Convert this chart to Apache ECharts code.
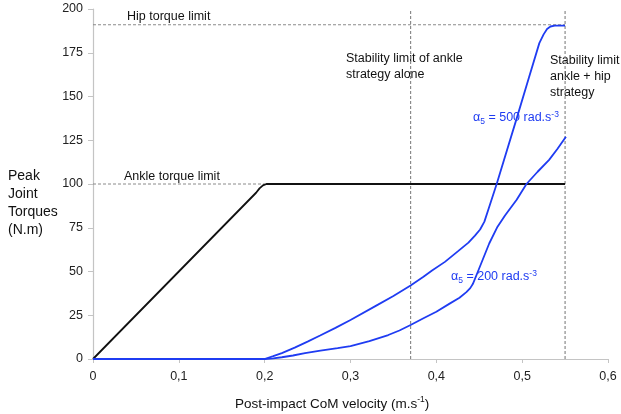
<!DOCTYPE html>
<html><head><meta charset="utf-8">
<script src="https://cdn.jsdelivr.net/npm/echarts@6/dist/echarts.min.js"></script>
<style>html,body{margin:0;padding:0;background:#fff}#c{width:621px;height:414px}</style>
</head><body><div id="c"></div>
<script>
// ---- data ----
const xTicks = [0, 0.1, 0.2, 0.3, 0.4, 0.5, 0.6];
const yTicks = [0, 25, 50, 75, 100, 125, 150, 175, 200];
const hipLimit = 191;
const ankleLimit = 100;
const ankleLimitEnd = 0.2;
const stabilityLimits = [0.37, 0.55];
const ankleStrategy = [[0,0],[0.1,50],[0.18,90],[0.19,95],[0.194,97.5],[0.198,99.2],[0.202,100],[0.55,100]];
const alpha500 = [[0,0],[0.2,0],[0.21,1.6],[0.22,3.4],[0.235,6.5],[0.25,9.9],[0.2646,13.4],[0.2825,17.8],[0.3,22.3],[0.33,30.5],[0.35,36],[0.37,42],[0.385,47],[0.395,50.6],[0.41,55.5],[0.425,61.5],[0.4374,66.5],[0.445,70.5],[0.451,74],[0.456,78.5],[0.461,86],[0.4703,100],[0.493,136.5],[0.508,161],[0.52,180.5],[0.525,185.5],[0.529,188.6],[0.533,190],[0.538,190.5],[0.55,190.5]];
const alpha200 = [[0,0],[0.2,0],[0.21,0.4],[0.22,1],[0.233,2],[0.247,3.3],[0.265,4.8],[0.285,6.2],[0.3,7.4],[0.322,10.2],[0.344,13.7],[0.357,16.3],[0.37,19.4],[0.385,23.3],[0.4,27],[0.415,31.5],[0.427,35],[0.435,38.2],[0.4395,40.5],[0.4425,42.8],[0.446,47],[0.4616,66],[0.4713,75.6],[0.48,82],[0.4936,91],[0.505,100],[0.518,107],[0.5314,113.8],[0.541,120],[0.551,127]];

const BLUE = '#1f3cf2';
const chart = echarts.init(document.getElementById('c'));
const FONT = 'Liberation Sans, Arial, sans-serif';
const fmt = v => v === 0 ? '0' : String(Math.round(v*10)/10).replace('.', ',');
const dashed = {color:'#8a8a8a', width:1, type:[3,2]};
const hline = (y, x1) => [[0, y], [x1, y]];
const vline = x => [[x, yTicks[0]], [x, yTicks[yTicks.length-1]]];

function t(text, x, y, opts) {
  return {type:'text', left:x, top:y, style:Object.assign({text:text, fill:'#111', font:'12.5px ' + FONT}, opts||{})};
}
const subRich = {
  b:{fill:BLUE, fontSize:12.5, fontFamily:FONT, lineHeight:16, verticalAlign:'middle'},
  sub:{fill:BLUE, fontSize:8.5, fontFamily:FONT, lineHeight:14, verticalAlign:'bottom'},
  sup:{fill:BLUE, fontSize:8.5, fontFamily:FONT, lineHeight:14, verticalAlign:'top'}
};

chart.setOption({
  animation:false,
  grid:{left:93, right:13, top:9, bottom:55},
  xAxis:{type:'value', min:xTicks[0], max:xTicks[xTicks.length-1], interval:0.1,
    axisLine:{lineStyle:{color:'#c4c4c4', width:1.2}},
    axisTick:{show:true, length:4, lineStyle:{color:'#c4c4c4'}},
    axisLabel:{formatter:fmt, color:'#222', fontSize:12.5, fontFamily:FONT, margin:11},
    splitLine:{show:false}},
  yAxis:{type:'value', min:yTicks[0], max:yTicks[yTicks.length-1], interval:25,
    axisLine:{show:true, lineStyle:{color:'#c4c4c4', width:1.2}},
    axisTick:{show:true, length:5, lineStyle:{color:'#c4c4c4'}},
    axisLabel:{color:'#222', fontSize:12.5, fontFamily:FONT, margin:10},
    splitLine:{show:false}},
  series:[
    {type:'line', data:hline(hipLimit, stabilityLimits[1]), symbol:'none', lineStyle:dashed, z:1},
    {type:'line', data:hline(ankleLimit, ankleLimitEnd), symbol:'none', lineStyle:dashed, z:1},
    {type:'line', data:vline(stabilityLimits[0]), symbol:'none', lineStyle:Object.assign({}, dashed, {width:1.2}), z:1},
    {type:'line', data:vline(stabilityLimits[1]), symbol:'none', lineStyle:Object.assign({}, dashed, {width:1.2}), z:1},
    {type:'line', data:ankleStrategy, symbol:'none', lineStyle:{color:'#111', width:1.8}, z:2},
    {type:'line', data:alpha500, symbol:'none', lineStyle:{color:BLUE, width:1.8}, z:3},
    {type:'line', data:alpha200, symbol:'none', lineStyle:{color:BLUE, width:1.8}, z:3}
  ],
  graphic:[
    t('Hip torque limit', 127, 10),
    t('Ankle torque limit', 124, 170),
    t('Stability limit of ankle\nstrategy alone', 346, 51, {lineHeight:16}),
    t('Stability limit\nankle + hip\nstrategy', 550, 53, {lineHeight:16}),
    {type:'text', left:473, top:110, style:{text:'{b|α}{sub|5}{b| = 500 rad.s}{sup|-3}', rich:subRich}},
    {type:'text', left:451, top:269, style:{text:'{b|α}{sub|5}{b| = 200 rad.s}{sup|-3}', rich:subRich}},
    t('Peak\nJoint\nTorques\n(N.m)', 8, 167, {lineHeight:18, font:'14px ' + FONT}),
    {type:'text', left:235, top:395, style:{text:'{a|Post-impact CoM velocity (m.s}{s|-1}{a|)}', rich:{
      a:{fill:'#111', fontSize:13.5, fontFamily:FONT, lineHeight:18, verticalAlign:'middle'},
      s:{fill:'#111', fontSize:8.5, fontFamily:FONT, lineHeight:16, verticalAlign:'top'}}}}
  ]
});
</script></body></html>
